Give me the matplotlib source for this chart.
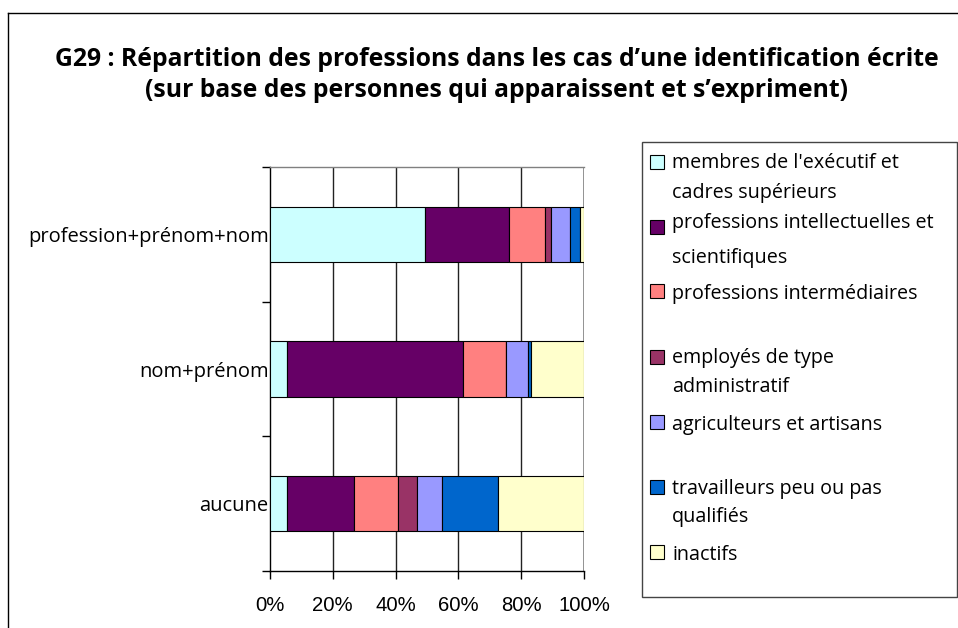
import matplotlib
matplotlib.use("Agg")
import matplotlib.pyplot as plt
from matplotlib.patches import Rectangle
from matplotlib.lines import Line2D
import numpy as np

# ---- data ----
categories = ["profession+prénom+nom", "nom+prénom", "aucune"]
series_names = [
    "membres de l'exécutif et\ncadres supérieurs",
    "professions intellectuelles et\nscientifiques",
    "professions intermédiaires",
    "employés de type\nadministratif",
    "agriculteurs et artisans",
    "travailleurs peu ou pas\nqualifiés",
    "inactifs",
]
values = [
    [49.4, 5.4, 5.4],     # membres de l'exécutif
    [26.6, 56.0, 21.3],   # professions intellectuelles
    [11.6, 13.7, 14.0],   # professions intermédiaires
    [2.0, 0.0, 6.1],      # employés administratifs
    [6.0, 7.0, 8.1],      # agriculteurs et artisans
    [3.2, 1.1, 17.6],     # travailleurs peu qualifiés
    [1.2, 16.8, 27.5],    # inactifs
]
colors = ["#CCFFFF", "#660066", "#FF8080", "#993366", "#9999FF", "#0066CC", "#FFFFCC"]
xticks = [0, 20, 40, 60, 80, 100]
xtick_labels = ["0%", "20%", "40%", "60%", "80%", "100%"]
title = ("G29 : Répartition des professions dans les cas d’une identification écrite\n"
         "(sur base des personnes qui apparaissent et s’expriment)")

W, H = 958, 628
fig = plt.figure(figsize=(W / 100, H / 100), dpi=100)

def fx(px):
    return px / W

def fy(py):
    return 1 - py / H

# outer frame (top and left visible)
fig.add_artist(Line2D([fx(8), fx(8)], [fy(13), fy(640)], color="black", lw=1.0, transform=fig.transFigure))
fig.add_artist(Line2D([fx(8), fx(970)], [fy(13), fy(13)], color="black", lw=1.0, transform=fig.transFigure))

# title
fig.text(fx(497), fy(75), title, ha="center", va="center", fontsize=17.8,
         fontweight="bold", family="Open Sans", linespacing=1.3)

# axes
ax_left, ax_right, ax_top, ax_bot = 270, 584, 167, 571
ax = fig.add_axes([fx(ax_left), fy(ax_bot), fx(ax_right - ax_left), (ax_bot - ax_top) / H])

y = np.arange(len(categories))
left = np.zeros(len(categories))
for vals, col in zip(values, colors):
    ax.barh(y, vals, left=left, height=0.41, color=col, edgecolor="black", linewidth=0.8, zorder=3)
    left = left + np.array(vals)

ax.set_xlim(0, 100)
ax.set_ylim(2.5, -0.5)

for xv in xticks[1:-1]:
    ax.axvline(xv, color="#222222", lw=1.0, zorder=1)
ax.axvline(100, color="#808080", lw=1.2, zorder=1)

ax.spines["top"].set_color("#808080")
ax.spines["right"].set_visible(False)
ax.spines["left"].set_color("black")
ax.spines["bottom"].set_color("black")
for s in ax.spines.values():
    s.set_linewidth(1.0)

ax.set_xticks(xticks)
ax.set_xticklabels(xtick_labels, family="Liberation Sans", fontsize=14.6)
ax.tick_params(axis="x", direction="out", length=6, width=1, pad=12, colors="black")

ax.set_yticks(y)
ax.set_yticklabels(categories, family="Open Sans", fontsize=14.5)
ax.set_yticks([-0.5, 0.5, 1.5, 2.5], minor=True)
ax.tick_params(axis="y", which="major", length=0, pad=1)
ax.tick_params(axis="y", which="minor", direction="out", length=6, width=1)

# legend box
lg_l, lg_t, lg_r, lg_b = 642, 142, 957, 597
fig.add_artist(Rectangle((fx(lg_l), fy(lg_b)), fx(lg_r - lg_l), (lg_b - lg_t) / H,
                         transform=fig.transFigure, facecolor="white", edgecolor="#444444", lw=1.0))
square_y = [162, 227, 291, 357, 422, 487, 552]
first_line_y = [163, 223, 294, 358, 425, 489, 555]
line_gap = [30, 35, 30, 29, 30, 28, 30]
sq = 14
for name, col, sy, ty, gap in zip(series_names, colors, square_y, first_line_y, line_gap):
    fig.add_artist(Rectangle((fx(650), fy(sy + sq / 2)), fx(sq), sq / H, transform=fig.transFigure,
                             facecolor=col, edgecolor="black", lw=0.8))
    for i, line in enumerate(name.split("\n")):
        fig.text(fx(672), fy(ty + i * gap), line, ha="left", va="center",
                 fontsize=14.2, family="Open Sans")

fig.savefig("out.png", dpi=100)
